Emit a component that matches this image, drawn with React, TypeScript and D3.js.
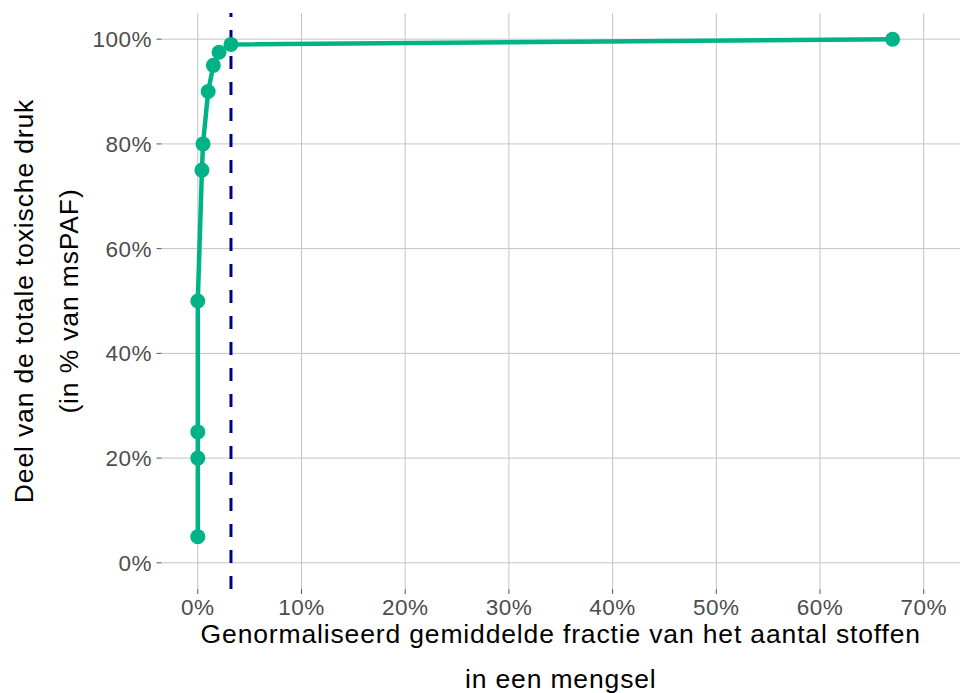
import React from "react";
import * as d3 from "d3";

const fractionPct = [0, 0, 0, 0, 0.4, 0.5, 1.0, 1.5, 2.05, 3.2, 67.0];
const sharePct = [5, 20, 25, 50, 75, 80, 90, 95, 97.5, 99, 100];
const thresholdPct = [3.2];
const xTicks = [0, 10, 20, 30, 40, 50, 60, 70];
const yTicks = [0, 20, 40, 60, 80, 100];
const xTitle = ["Genormaliseerd gemiddelde fractie van het aantal stoffen", "in een mengsel"];
const yTitle = ["Deel van de totale toxische druk", "(in % van msPAF)"];

const W = 963;
const H = 693;
const left = 161.5;
const right = 960;
const top = 13;
const bottom = 589;

export default function App() {
  const x = d3.scaleLinear().domain([-3.5, 73.5]).range([left, right]);
  const y = d3.scaleLinear().domain([-5, 105]).range([bottom, top]);
  const pts = fractionPct.map((f, i) => [f, sharePct[i]] as [number, number]);
  const line = d3.line<[number, number]>().x((d) => x(d[0])).y((d) => y(d[1]));
  const font = "'Liberation Sans', Arial, sans-serif";
  const green = "#00B386";
  const grid = "#c4c4c4";
  return (
    <svg width={W} height={H} style={{ position: "absolute", left: 0, top: 0 }} fontFamily={font}>
      <rect width={W} height={H} fill="white" />
      {xTicks.map((t) => (
        <g key={"x" + t}>
          <line x1={x(t)} x2={x(t)} y1={top} y2={bottom} stroke={grid} strokeWidth={1} />
          <line x1={x(t)} x2={x(t)} y1={bottom} y2={bottom + 5} stroke="#555" strokeWidth={1} />
          <text x={x(t)} y={615} textAnchor="middle" fontSize={22.5} letterSpacing={0.5} fill="#4d4d4d">{t + "%"}</text>
        </g>
      ))}
      {yTicks.map((t) => (
        <g key={"y" + t}>
          <line x1={left} x2={right} y1={y(t)} y2={y(t)} stroke={grid} strokeWidth={1} />
          <line x1={left - 5} x2={left} y1={y(t)} y2={y(t)} stroke="#555" strokeWidth={1} />
          <text x={152} y={y(t) + 8} textAnchor="end" fontSize={22.5} letterSpacing={0.5} fill="#4d4d4d">{t + "%"}</text>
        </g>
      ))}
      {thresholdPct.map((v) => (
        <line key={"v" + v} x1={x(v)} x2={x(v)} y1={bottom} y2={top} stroke="#00008B" strokeWidth={3} strokeDasharray="13,13" />
      ))}
      <path d={line(pts) || ""} fill="none" stroke={green} strokeWidth={4.5} strokeLinejoin="round" />
      {pts.map((p, i) => (
        <circle key={"p" + i} cx={x(p[0])} cy={y(p[1])} r={7.5} fill={green} />
      ))}
      {xTitle.map((s, i) => (
        <text key={"xt" + i} x={(left + right) / 2} y={643 + i * 45} textAnchor="middle" fontSize={26.5} letterSpacing={0.85} fill="black">{s}</text>
      ))}
      {yTitle.map((s, i) => (
        <text key={"yt" + i} transform={`translate(${33 + i * 45},${(top + bottom) / 2}) rotate(-90)`} textAnchor="middle" fontSize={26.5} letterSpacing={0.85} fill="black">{s}</text>
      ))}
    </svg>
  );
}
